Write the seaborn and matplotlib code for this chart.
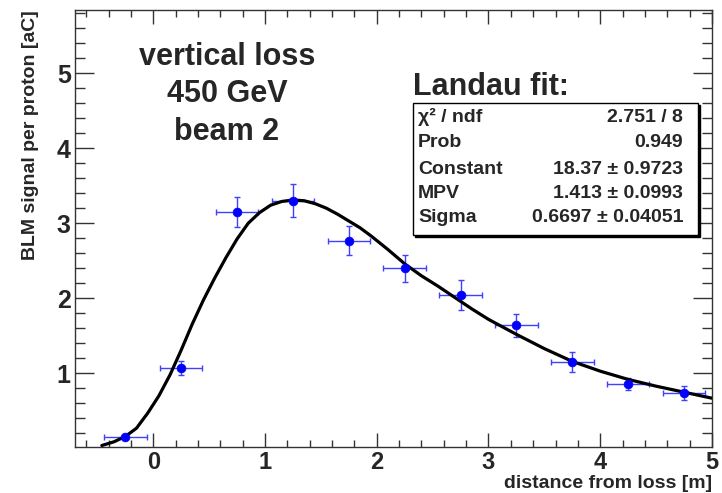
import numpy as np
import pandas as pd
import seaborn as sn
import matplotlib.pyplot as plt
from matplotlib.ticker import MultipleLocator
from matplotlib.patches import Rectangle

# measured points
dist = [-0.25, 0.25, 0.75, 1.25, 1.75, 2.25, 2.75, 3.25, 3.75, 4.25, 4.75]
signal = [0.15, 1.07, 3.15, 3.30, 2.77, 2.40, 2.05, 1.64, 1.15, 0.86, 0.74]
signal_err = [0.03, 0.09, 0.20, 0.22, 0.19, 0.18, 0.20, 0.15, 0.13, 0.085, 0.09]
dist_err = [0.19] * 11

# landau fit curve
fit_x = [-0.46, -0.35, -0.25, -0.15, -0.05, 0.05, 0.15, 0.25, 0.35, 0.45,
         0.55, 0.65, 0.75, 0.85, 0.95, 1.05, 1.15, 1.25, 1.35, 1.45,
         1.55, 1.65, 1.75, 1.85, 1.95, 2.1, 2.25, 2.4, 2.55, 2.7,
         2.85, 3.0, 3.25, 3.5, 3.75, 4.0, 4.25, 4.5, 4.75, 5.0]
fit_y = [0.04, 0.09, 0.16, 0.27, 0.47, 0.70, 0.98, 1.31, 1.66, 1.98,
         2.27, 2.54, 2.79, 3.00, 3.14, 3.24, 3.29, 3.31, 3.30, 3.26,
         3.20, 3.12, 3.03, 2.94, 2.83, 2.65, 2.46, 2.30, 2.16, 2.01,
         1.86, 1.72, 1.52, 1.33, 1.16, 1.03, 0.92, 0.83, 0.75, 0.67]

stat_names = ["\u03c7\u00b2 / ndf", "Prob", "Constant", "MPV", "Sigma"]
stat_values = ["2.751 / 8", "0.949", "18.37 \u00b1 0.9723",
               "1.413 \u00b1 0.0993", "0.6697 \u00b1 0.04051"]
info_lines = ["vertical loss", "450 GeV", "beam 2"]

sn.set_style("ticks")
plt.rcParams['font.family'] = ['Liberation Sans', 'DejaVu Sans']
plt.rcParams['font.weight'] = 'bold'

W, H = 722, 493
fig = plt.figure(figsize=(W / 100, H / 100), dpi=100)
ax = fig.add_axes([75 / W, 1 - 447 / H, 637 / W, 437 / H])

def px(x, y):
    return x / W, 1 - y / H

pts = pd.DataFrame({"d": dist, "s": signal})
fit = pd.DataFrame({"x": fit_x, "y": fit_y})

sn.lineplot(data=fit, x="x", y="y", color="black", lw=2.3, ax=ax, sort=False, zorder=4)
ax.errorbar(dist, signal, xerr=dist_err, yerr=signal_err, fmt="none",
            ecolor=(0.25, 0.25, 1.0), elinewidth=1.0, capsize=2.5, capthick=1.0, zorder=3)
sn.scatterplot(data=pts, x="d", y="s", color="blue", edgecolor="blue", s=40, ax=ax, zorder=5)

ax.set_xlim(-0.70, 5.0)
ax.set_ylim(0.02, 5.84)
ax.xaxis.set_major_locator(MultipleLocator(1))
ax.xaxis.set_minor_locator(MultipleLocator(0.2))
ax.yaxis.set_major_locator(MultipleLocator(1))
ax.yaxis.set_minor_locator(MultipleLocator(0.2))
ax.tick_params(which="both", direction="in", top=True, right=True, width=1, color="#333333")
ax.tick_params(axis="x", which="major", length=10, labelsize=17, pad=3)
ax.tick_params(axis="x", which="minor", length=5)
ax.tick_params(axis="y", which="major", length=14, labelsize=18, pad=3)
ax.tick_params(axis="y", which="minor", length=7.5)
for s in ax.spines.values():
    s.set_linewidth(1)
    s.set_color("#333333")
ax.set_xlabel("")
ax.set_ylabel("")

fig.text(*px(31, 10), "BLM signal per proton [aC]", rotation=90, ha="center", va="top", fontsize=14)
fig.text(*px(712, 483), "distance from loss [m]", ha="right", va="center", fontsize=14)

for i, line in enumerate(info_lines):
    fig.text(*px(227, 57 + 37.5 * i), line, ha="center", va="center", fontsize=22)

fig.text(*px(413, 87), "Landau fit:", ha="left", va="center", fontsize=22)

# stat box with shadow
x0, x1, y0, y1 = 413.3, 698.3, 102.7, 235
fig.patches.append(Rectangle(px(x0 + 2, y1 + 2), (x1 - x0) / W, (y1 - y0) / H,
                             transform=fig.transFigure, facecolor="black", edgecolor="black", zorder=5))
fig.patches.append(Rectangle(px(x0, y1), (x1 - x0) / W, (y1 - y0) / H,
                             transform=fig.transFigure, facecolor="white", edgecolor="black", lw=1, zorder=6))
rows = [117, 143, 169, 194, 218]
for yy, name, val in zip(rows, stat_names, stat_values):
    fig.text(*px(418, yy), name, ha="left", va="center", fontsize=14, zorder=7)
    fig.text(*px(683, yy), val, ha="right", va="center", fontsize=14, zorder=7)

fig.savefig("out.png", dpi=100)
